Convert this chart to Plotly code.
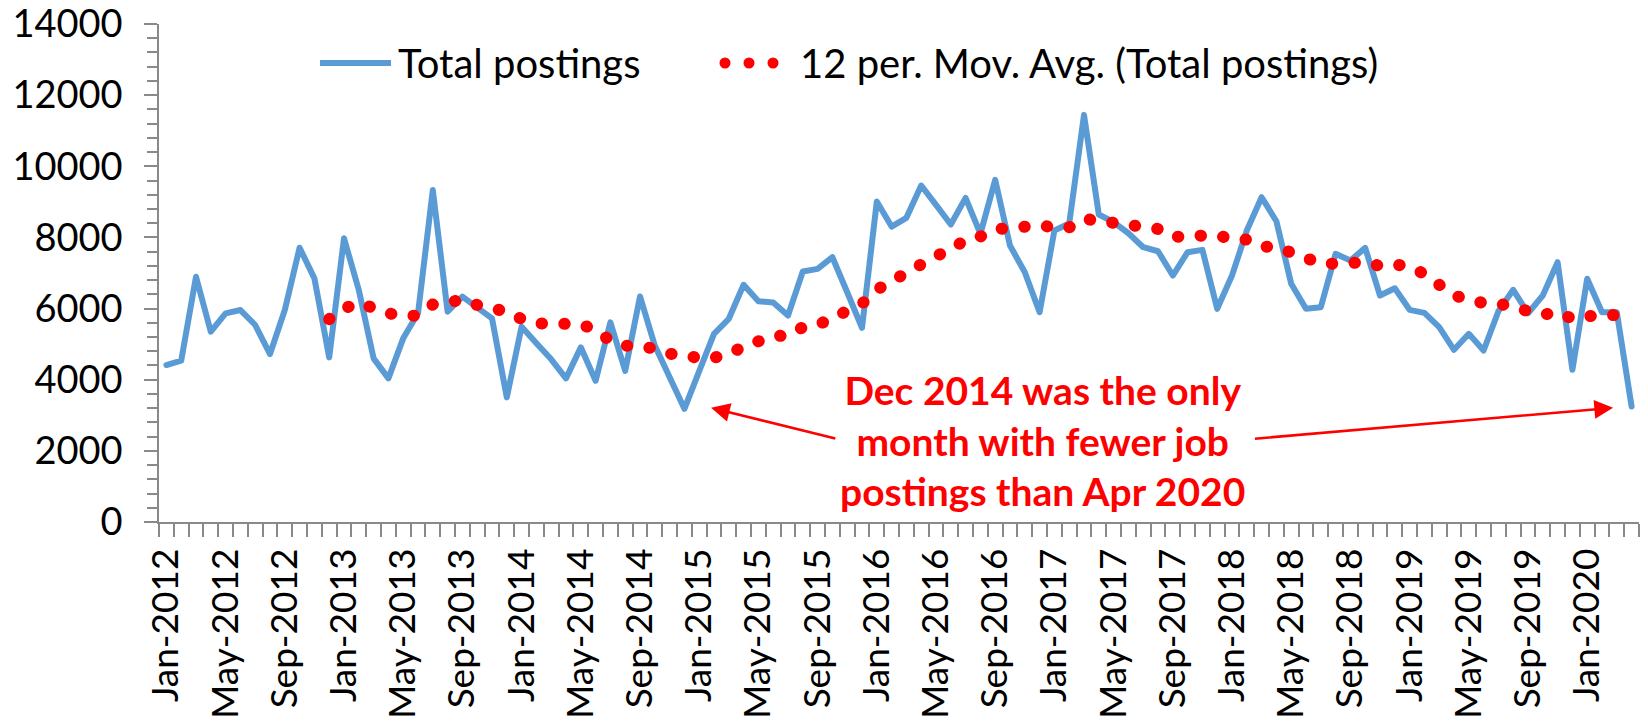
import plotly.graph_objects as go

# ---- data ----
total_postings = [
    4413, 4534, 6896, 5350, 5866, 5959, 5538, 4722, 5959, 7711, 6850, 4629,   # 2012
    7974, 6522, 4600, 4038, 5163, 5866, 9333, 5912, 6334, 6006, 5725, 3504,   # 2013
    5491, 5022, 4573, 4038, 4910, 3973, 5613, 4250, 6340, 4961, 4071, 3182,   # 2014
    4240, 5290, 5712, 6668, 6207, 6170, 5805, 7042, 7117, 7444, 6460, 5459,   # 2015
    9009, 8306, 8551, 9459, 8916, 8363, 9113, 8101, 9619, 7772, 7022, 5898,   # 2016
    8194, 8390, 11446, 8644, 8428, 8118, 7725, 7612, 6929, 7585, 7651, 5993,  # 2017
    6929, 8194, 9130, 8456, 6696, 5993, 6038, 7539, 7351, 7707, 6367, 6572,   # 2018
    5965, 5880, 5476, 4841, 5290, 4821, 5926, 6527, 5870, 6367, 7303, 4278,   # 2019
    6836, 5898, 5898, 3247,                                                   # 2020 Jan-Apr
]
tick_labels = [
    "Jan-2012", "May-2012", "Sep-2012", "Jan-2013", "May-2013", "Sep-2013",
    "Jan-2014", "May-2014", "Sep-2014", "Jan-2015", "May-2015", "Sep-2015",
    "Jan-2016", "May-2016", "Sep-2016", "Jan-2017", "May-2017", "Sep-2017",
    "Jan-2018", "May-2018", "Sep-2018", "Jan-2019", "May-2019", "Sep-2019",
    "Jan-2020",
]
label_step = 4          # one label every 4 months
ma_period = 12
series_names = ["Total postings", "12 per. Mov. Avg. (Total postings)"]
note_text = "Dec 2014 was the only<br>month with fewer job<br>postings than Apr 2020"
dec2014_index = 35
apr2020_index = 99

x_idx = list(range(len(total_postings)))
tick_pos = [k * label_step for k in range(len(tick_labels))]
# Excel 12-period moving-average trendline of the series
mov_avg = [None] * (ma_period - 1) + [
    sum(total_postings[i - ma_period + 1:i + 1]) / ma_period
    for i in range(ma_period - 1, len(total_postings))
]

# ---- style ----
W, H = 1648, 724
ML, MR, MT, MB = 159, 9, 24, 202
BLUE = "#5B9BD5"
RED = "#FF0000"
AXC = "#898989"
FONT = "Lato"


def px_x(px):
    return (px - ML) / (W - ML - MR)


def px_y(px):
    return (H - MB - px) / (H - MT - MB)


fig = go.Figure()
fig.add_trace(go.Scatter(
    x=x_idx, y=total_postings, mode="lines", name=series_names[0],
    line=dict(color=BLUE, width=6), hoverinfo="skip"))
fig.add_trace(go.Scatter(
    x=x_idx, y=mov_avg, mode="lines", name=series_names[1],
    line=dict(color=RED, width=12, dash="0.5px,22.2px"), hoverinfo="skip"))

fig.update_layout(
    width=W, height=H,
    margin=dict(l=ML, r=MR, t=MT, b=MB, pad=0, autoexpand=False),
    plot_bgcolor="white", paper_bgcolor="white",
    showlegend=False,
    font=dict(family=FONT, color="black"),
    xaxis=dict(
        range=[-0.5, len(total_postings) - 0.5], automargin=False,
        tickmode="array", tickvals=tick_pos, ticktext=tick_labels,
        tickangle=-90, ticks="", showgrid=False, zeroline=False,
        showline=True, linecolor=AXC, linewidth=1.5,
        tickfont=dict(family=FONT, size=37, color="black"),
        ticklabelstandoff=10, ticklabeloverflow="allow",
        minor=dict(tickmode="linear", tick0=-0.5, dtick=1, ticks="outside",
                   ticklen=13, tickwidth=1.5, tickcolor=AXC, showgrid=False),
    ),
    yaxis=dict(
        range=[0, 14000], tickmode="linear", tick0=0, dtick=2000, automargin=False,
        tickformat="d",
        ticks="outside", ticklen=13, tickwidth=1.5, tickcolor=AXC,
        showline=True, linecolor=AXC, linewidth=1.5,
        showgrid=False, zeroline=False,
        tickfont=dict(family=FONT, size=38, color="black"),
        ticklabelstandoff=14, ticklabeloverflow="allow",
        minor=dict(dtick=400, ticks="outside", ticklen=10, tickwidth=1.5,
                   tickcolor=AXC, showgrid=False),
    ),
    yaxis2=dict(
        overlaying="y", side="left", range=[0, 14000], automargin=False,
        tickmode="linear", tick0=0, dtick=2000,
        ticks="inside", ticklen=13, tickwidth=1.5, tickcolor=AXC,
        showticklabels=False, showline=False, showgrid=False, zeroline=False,
        minor=dict(dtick=400, ticks="inside", ticklen=10, tickwidth=1.5,
                   tickcolor=AXC, showgrid=False),
    ),
)

# ---- legend drawn as shapes + text ----
leg_y = px_y(63)
fig.add_shape(type="line", xref="paper", yref="paper",
              x0=px_x(320), x1=px_x(391), y0=leg_y, y1=leg_y,
              line=dict(color=BLUE, width=6))
fig.add_annotation(xref="paper", yref="paper", x=px_x(396), y=leg_y,
                   xanchor="left", yanchor="middle", showarrow=False,
                   text=series_names[0], font=dict(family=FONT, size=40, color="black"))
for cx in (725, 749, 773):
    fig.add_shape(type="circle", xref="paper", yref="paper",
                  xsizemode="pixel", ysizemode="pixel",
                  xanchor=px_x(cx), yanchor=leg_y,
                  x0=-5.5, x1=5.5, y0=-5.5, y1=5.5,
                  fillcolor=RED, line=dict(width=0))
fig.add_annotation(xref="paper", yref="paper", x=px_x(798), y=leg_y,
                   xanchor="left", yanchor="middle", showarrow=False,
                   text=series_names[1], font=dict(family=FONT, size=40, color="black"))

# ---- callout ----
fig.add_annotation(xref="x", yref="y", x=59.2, y=2300,
                   xanchor="center", yanchor="middle", showarrow=False, align="center",
                   text=note_text,
                   font=dict(family=FONT, size=39, color=RED, weight="bold"))
for idx, tail_dx in ((dec2014_index, 8.5), (apr2020_index, -24.3)):
    head_x = idx + (1.8 if idx == dec2014_index else -1.25)
    head_y = total_postings[idx] + (28 if idx == dec2014_index else -37)
    fig.add_annotation(xref="x", yref="y", axref="x", ayref="y",
                       x=head_x, y=head_y, ax=head_x + tail_dx, ay=2339,
                       text="", showarrow=True, arrowhead=2, arrowsize=1.5,
                       arrowwidth=2.5, arrowcolor=RED, standoff=0)

post = """
document.body.style.margin='0';
var st=document.createElement('style');
st.textContent='.scatterlayer .trace:nth-child(2) path.js-line{stroke-linecap:round;}'+
 '.scatterlayer .trace:nth-child(1) path.js-line{stroke-linejoin:round;stroke-linecap:round;}';
document.head.appendChild(st);
"""
fig.write_html("out.html", post_script=post, config={"displayModeBar": False})
